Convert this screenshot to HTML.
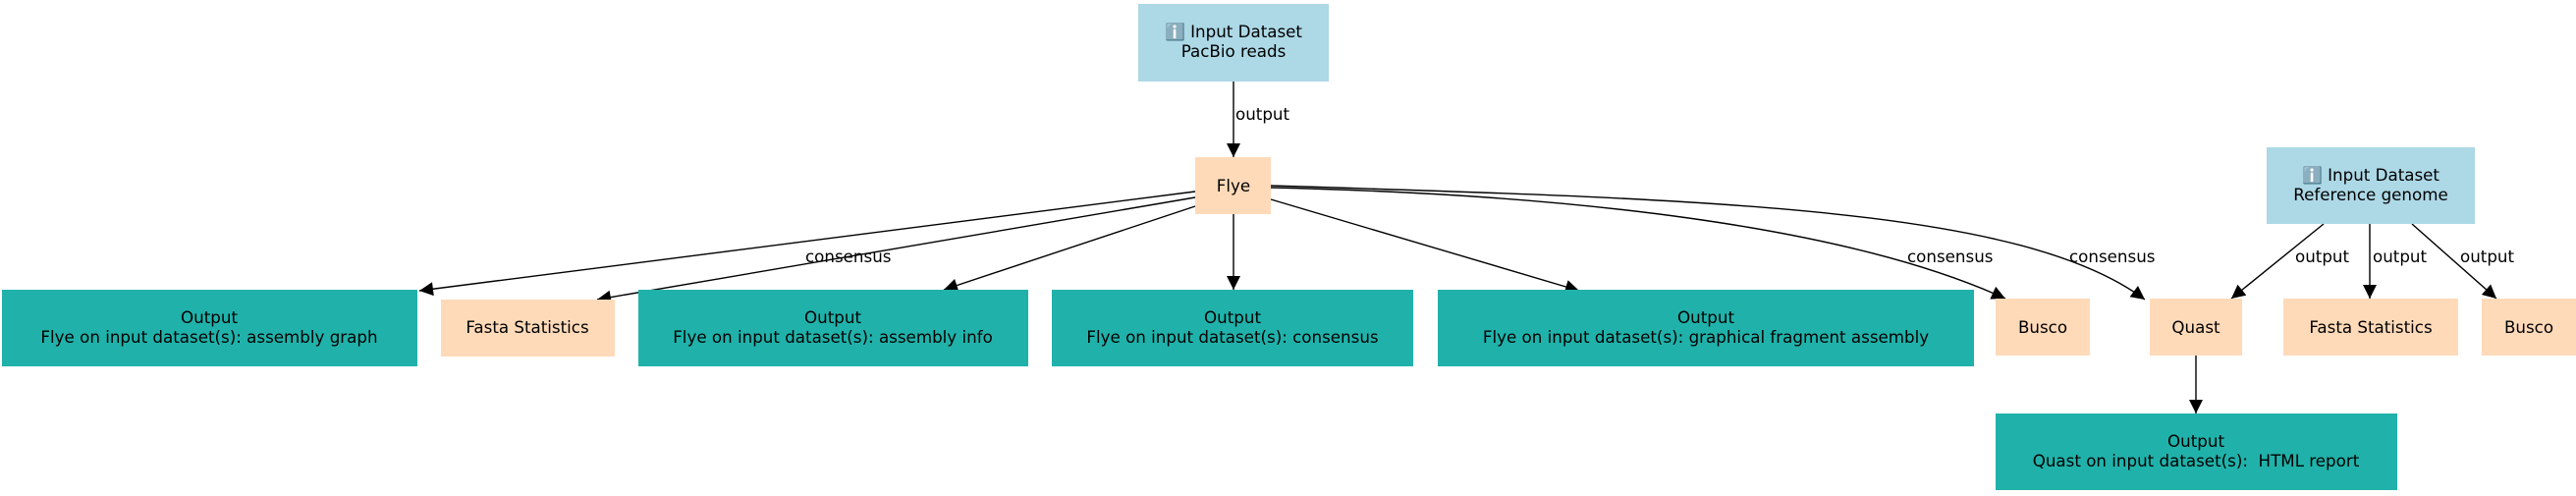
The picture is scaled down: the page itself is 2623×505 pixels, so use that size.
<!DOCTYPE html>
<html><head><meta charset="utf-8"><style>
html,body{margin:0;padding:0;background:#fff;}
svg{display:block;}
text{font-family:"DejaVu Sans","Liberation Sans",sans-serif;font-size:16.7px;fill:#000;white-space:pre;}
</style></head><body>
<svg width="2623" height="505" viewBox="0 0 2623 505" xmlns="http://www.w3.org/2000/svg">
<defs>
<marker id="b" viewBox="0 0 10 10" refX="10" refY="5" markerWidth="18" markerHeight="14" markerUnits="userSpaceOnUse" orient="auto"><path d="M0,0 L10,5 L0,10 z" fill="#000"/></marker></defs>
<g fill="none" stroke="#000" stroke-width="1.4">
<line x1="1256" y1="83" x2="1256" y2="160" marker-end="url(#b)"/>
<line x1="1217" y1="195" x2="427" y2="296" marker-end="url(#b)"/>
<line x1="1217" y1="201" x2="608" y2="305" marker-end="url(#b)"/>
<line x1="1217" y1="210" x2="961" y2="295" marker-end="url(#b)"/>
<line x1="1256" y1="218" x2="1256" y2="295" marker-end="url(#b)"/>
<line x1="1294" y1="203" x2="1608" y2="296" marker-end="url(#b)"/>
<path d="M1294,191 C1600,198 1880,230 2042,304" marker-end="url(#b)"/>
<path d="M1294,189 C1750,203 2060,212 2184,305" marker-end="url(#b)"/>
<line x1="2366" y1="228" x2="2272" y2="304" marker-end="url(#b)"/>
<line x1="2413" y1="228" x2="2413" y2="304" marker-end="url(#b)"/>
<line x1="2456" y1="228" x2="2542" y2="304" marker-end="url(#b)"/>
<line x1="2236" y1="362" x2="2236" y2="421" marker-end="url(#b)"/>
</g>
<g>
<rect x="1159" y="4" width="194" height="79" fill="#add8e6"/>
<rect x="2308" y="150" width="212" height="78" fill="#add8e6"/>
<rect x="1217" y="160" width="77" height="58" fill="#ffdab9"/>
<rect x="2" y="295" width="423" height="78" fill="#20b2aa"/>
<rect x="449" y="305" width="177" height="58" fill="#ffdab9"/>
<rect x="650" y="295" width="397" height="78" fill="#20b2aa"/>
<rect x="1071" y="295" width="368" height="78" fill="#20b2aa"/>
<rect x="1464" y="295" width="546" height="78" fill="#20b2aa"/>
<rect x="2032" y="304" width="96" height="58" fill="#ffdab9"/>
<rect x="2189" y="304" width="94" height="58" fill="#ffdab9"/>
<rect x="2325" y="304" width="178" height="58" fill="#ffdab9"/>
<rect x="2527" y="304" width="96" height="58" fill="#ffdab9"/>
<rect x="2032" y="421" width="409" height="78" fill="#20b2aa"/>
</g>
<g text-anchor="middle">
<text x="1256" y="38">ℹ️ Input Dataset</text>
<text x="1256" y="58">PacBio reads</text>
<text x="2414" y="184">ℹ️ Input Dataset</text>
<text x="2414" y="204">Reference genome</text>
<text x="1256" y="195">Flye</text>
<text x="213" y="329">Output</text>
<text x="213" y="349">Flye on input dataset(s): assembly graph</text>
<text x="537" y="339">Fasta Statistics</text>
<text x="848" y="329">Output</text>
<text x="848" y="349">Flye on input dataset(s): assembly info</text>
<text x="1255" y="329">Output</text>
<text x="1255" y="349">Flye on input dataset(s): consensus</text>
<text x="1737" y="329">Output</text>
<text x="1737" y="349">Flye on input dataset(s): graphical fragment assembly</text>
<text x="2080" y="339">Busco</text>
<text x="2236" y="339">Quast</text>
<text x="2414" y="339">Fasta Statistics</text>
<text x="2575" y="339">Busco</text>
<text x="2236" y="455">Output</text>
<text x="2236" y="475">Quast on input dataset(s):&#160; HTML report</text>
</g>
<g>
<text x="1258" y="122">output</text>
<text x="820" y="267">consensus</text>
<text x="1942" y="267">consensus</text>
<text x="2107" y="267">consensus</text>
<text x="2337" y="267">output</text>
<text x="2416" y="267">output</text>
<text x="2505" y="267">output</text>
</g>
</svg>
</body></html>
